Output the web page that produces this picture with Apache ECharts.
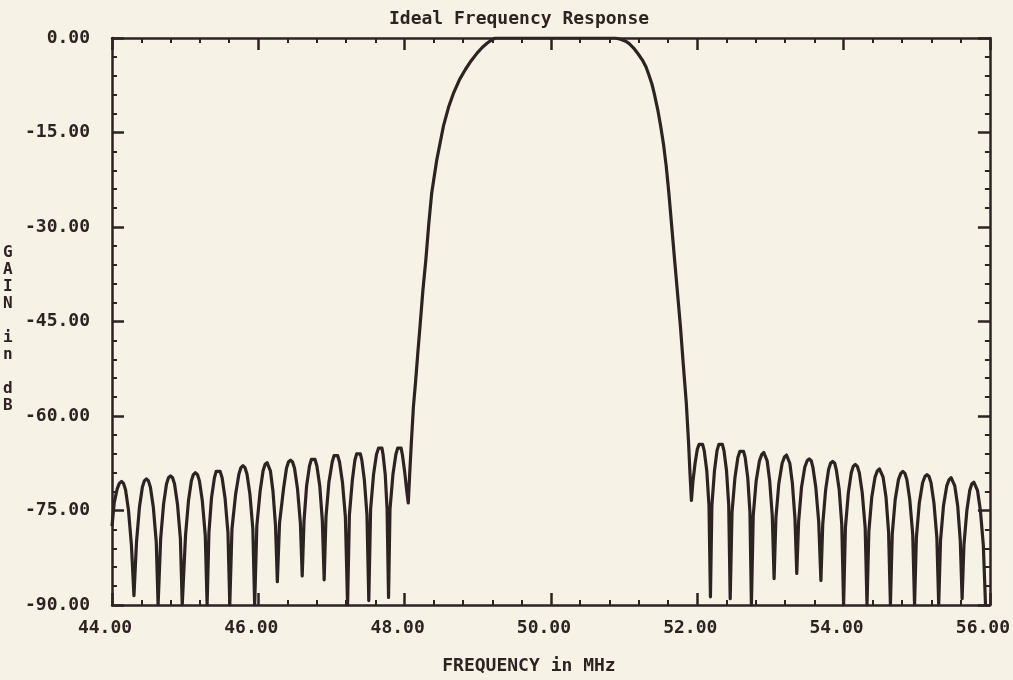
<!DOCTYPE html>
<html>
<head>
<meta charset="utf-8">
<title>Ideal Frequency Response</title>
<script src="https://cdn.jsdelivr.net/npm/echarts@6/dist/echarts.min.js"></script>
<style>
  html, body { margin: 0; padding: 0; background: #f7f2e6; }
  #chart { width: 1013px; height: 680px; }
</style>
</head>
<body>
<div id="chart"></div>
<script>
// frequency in MHz, gain in dB
const leftSidelobes = [
  [44.00, -77.5], [44.03, -73.8], [44.07, -71.6], [44.10, -70.7], [44.13, -70.4], [44.158, -70.7], [44.185, -71.7], [44.225, -74.9], [44.265, -80.4], [44.30, -88.5],
  [44.335, -80.0], [44.375, -74.5], [44.415, -71.3], [44.442, -70.3], [44.47, -70.0], [44.498, -70.3], [44.525, -71.3], [44.565, -74.5], [44.605, -80.0], [44.63, -90],
  [44.665, -79.5], [44.705, -74.0], [44.745, -70.8], [44.772, -69.8], [44.80, -69.5], [44.828, -69.8], [44.855, -70.8], [44.895, -74.0], [44.935, -79.5], [44.96, -90],
  [45.005, -79.0], [45.045, -73.5], [45.085, -70.3], [45.112, -69.3], [45.14, -69.0], [45.168, -69.3], [45.195, -70.3], [45.235, -73.5], [45.275, -79.0], [45.30, -90],
  [45.325, -78.5], [45.36, -73.0], [45.40, -69.8], [45.424, -68.8], [45.45, -68.5], [45.478, -68.8], [45.505, -69.8], [45.545, -73.0], [45.585, -78.5], [45.61, -90],
  [45.64, -77.9], [45.69, -72.4], [45.735, -69.2], [45.762, -68.2], [45.79, -67.9], [45.818, -68.2], [45.845, -69.2], [45.885, -72.4], [45.925, -77.9], [45.95, -90],
  [45.98, -77.4], [46.025, -71.9], [46.065, -68.7], [46.092, -67.7], [46.12, -67.4], [46.145, -67.7], [46.165, -68.7], [46.20, -71.9], [46.235, -77.4], [46.26, -86.3],
  [46.29, -77.0], [46.345, -71.5], [46.385, -68.3], [46.412, -67.3], [46.44, -67.0], [46.468, -67.3], [46.495, -68.3], [46.535, -71.5], [46.575, -77.0], [46.60, -85.4],
  [46.625, -76.6], [46.66, -71.1], [46.70, -67.9], [46.725, -66.9], [46.75, -66.6], [46.775, -66.9], [46.80, -67.9], [46.84, -71.1], [46.875, -76.6], [46.90, -86.0],
  [46.925, -76.0], [46.965, -70.5], [47.01, -67.3], [47.035, -66.3], [47.06, -66.0], [47.085, -66.3], [47.11, -67.3], [47.15, -70.5], [47.19, -76.0], [47.22, -90],
  [47.245, -75.7], [47.285, -70.2], [47.32, -67.0], [47.345, -66.0], [47.37, -65.7], [47.395, -66.0], [47.415, -67.0], [47.45, -70.2], [47.485, -75.7], [47.51, -89.3],
  [47.535, -74.8], [47.575, -69.3], [47.615, -66.1], [47.643, -65.1], [47.67, -64.8], [47.69, -65.1], [47.705, -66.1], [47.735, -69.3], [47.76, -74.8], [47.78, -88.8],
  [47.80, -74.8], [47.84, -69.3], [47.88, -66.1], [47.905, -65.1], [47.93, -64.8], [47.952, -65.1], [47.97, -66.2], [48.00, -68.8], [48.03, -72.0], [48.05, -73.8]
];

const mainLobe = [
  [48.07, -69.0], [48.09, -64.6], [48.12, -58.5], [48.15, -54.5], [48.18, -50.0], [48.21, -45.8], [48.25, -40.0],
  [48.29, -35.2], [48.33, -29.5], [48.37, -24.6], [48.44, -19.3], [48.53, -14.0], [48.60, -11.0], [48.67, -8.7],
  [48.75, -6.6], [48.83, -5.0], [48.91, -3.6], [48.99, -2.4], [49.06, -1.5], [49.13, -0.8], [49.19, -0.3], [49.24, 0],
  [50.00, 0], [50.88, 0],
  [50.95, -0.2], [51.02, -0.5], [51.07, -0.9], [51.13, -1.6], [51.19, -2.5], [51.25, -3.5], [51.30, -4.6], [51.34, -5.9],
  [51.38, -7.3], [51.41, -8.7], [51.46, -11.4], [51.50, -14.0], [51.54, -17.0], [51.575, -20.3], [51.61, -24.4],
  [51.65, -29.8], [51.69, -35.2], [51.73, -40.5], [51.77, -45.8], [51.81, -52.0], [51.85, -57.9], [51.88, -64.0],
  [51.90, -69.0], [51.92, -73.4]
];

const rightSidelobes = [
  [51.94, -70.5], [51.97, -67.5], [52.00, -65.3], [52.025, -64.5], [52.05, -64.2], [52.073, -64.5], [52.095, -65.5], [52.13, -68.7], [52.16, -74.2], [52.18, -88.7],
  [52.20, -74.2], [52.235, -68.7], [52.27, -65.5], [52.295, -64.5], [52.32, -64.2], [52.343, -64.5], [52.365, -65.5], [52.40, -68.7], [52.43, -74.2], [52.45, -89.0],
  [52.475, -75.3], [52.515, -69.8], [52.555, -66.6], [52.583, -65.6], [52.61, -65.3], [52.633, -65.6], [52.655, -66.6], [52.69, -69.8], [52.72, -75.3], [52.74, -90],
  [52.765, -75.8], [52.805, -70.3], [52.85, -67.1], [52.882, -66.1], [52.91, -65.8], [52.935, -66.1], [52.955, -67.1], [52.99, -70.3], [53.025, -75.8], [53.05, -85.8],
  [53.075, -76.2], [53.115, -70.7], [53.16, -67.5], [53.192, -66.5], [53.22, -66.2], [53.245, -66.5], [53.265, -67.5], [53.30, -70.7], [53.335, -76.2], [53.36, -85.0],
  [53.385, -76.8], [53.425, -71.3], [53.47, -68.1], [53.502, -67.1], [53.53, -66.8], [53.558, -67.1], [53.58, -68.1], [53.62, -71.3], [53.66, -76.8], [53.69, -86.1],
  [53.715, -77.2], [53.755, -71.7], [53.795, -68.5], [53.822, -67.5], [53.85, -67.2], [53.878, -67.5], [53.90, -68.5], [53.94, -71.7], [53.975, -77.2], [54.00, -90],
  [54.025, -77.7], [54.065, -72.2], [54.105, -69.0], [54.132, -68.0], [54.16, -67.7], [54.188, -68.0], [54.215, -69.0], [54.255, -72.2], [54.295, -77.7], [54.32, -90],
  [54.345, -78.4], [54.385, -72.9], [54.43, -69.7], [54.462, -68.7], [54.49, -68.4], [54.515, -68.7], [54.54, -69.7], [54.58, -72.9], [54.615, -78.4], [54.64, -90],
  [54.665, -78.8], [54.705, -73.3], [54.75, -70.1], [54.782, -69.1], [54.81, -68.8], [54.838, -69.1], [54.865, -70.1], [54.905, -73.3], [54.945, -78.8], [54.97, -90],
  [54.995, -79.3], [55.035, -73.8], [55.08, -70.6], [55.112, -69.6], [55.14, -69.3], [55.168, -69.6], [55.195, -70.6], [55.235, -73.8], [55.275, -79.3], [55.30, -90],
  [55.325, -79.8], [55.365, -74.3], [55.41, -71.1], [55.442, -70.1], [55.47, -69.8], [55.495, -70.1], [55.52, -71.1], [55.56, -74.3], [55.595, -79.8], [55.62, -89.0],
  [55.645, -80.5], [55.685, -75.0], [55.725, -71.8], [55.752, -70.8], [55.78, -70.5], [55.805, -70.8], [55.83, -71.8], [55.87, -75.0], [55.91, -80.5], [55.94, -90]
];

const freqRange = [44, 56];
const gainRange = [-90, 0];

const ink = '#2e2323';
const plotFont = 'DejaVu Sans Mono';

const myChart = echarts.init(document.getElementById('chart'));

const tickStyle = { inside: true, length: 12, lineStyle: { color: ink, width: 2.5 } };
const minorStyle = { show: true, splitNumber: 5, length: 5, lineStyle: { color: ink, width: 2 } };
const lineStyle = { show: true, onZero: false, lineStyle: { color: ink, width: 2.5 } };

const option = {
  backgroundColor: '#f7f2e6',
  animation: false,
  title: {
    text: 'Ideal Frequency Response',
    left: 384,
    top: 5,
    textStyle: { fontFamily: plotFont, fontWeight: 'bold', fontSize: 18, color: ink }
  },
  grid: { left: 112, right: 23, top: 38, bottom: 72 },
  graphic: [
    {
      type: 'text',
      left: 3,
      top: 244,
      style: {
        text: 'G\nA\nI\nN\n\ni\nn\n\nd\nB',
        font: 'bold 16px "DejaVu Sans Mono"',
        lineHeight: 17,
        fill: ink
      }
    }
  ],
  xAxis: [
    {
      type: 'value',
      min: freqRange[0],
      max: freqRange[1],
      interval: 2,
      name: 'FREQUENCY in MHz',
      nameLocation: 'middle',
      nameGap: 52,
      nameTextStyle: {
        fontFamily: plotFont, fontWeight: 'bold', fontSize: 18, color: ink,
        padding: [0, 44, 0, 0]
      },
      axisLine: lineStyle,
      axisTick: tickStyle,
      minorTick: minorStyle,
      splitLine: { show: false },
      axisLabel: {
        margin: 14,
        fontFamily: plotFont,
        fontWeight: 'bold',
        fontSize: 18,
        color: ink,
        padding: [0, 14, 0, 0],
        formatter: v => v.toFixed(2)
      }
    },
    {
      type: 'value',
      position: 'top',
      min: freqRange[0],
      max: freqRange[1],
      interval: 2,
      axisLine: lineStyle,
      axisTick: tickStyle,
      minorTick: minorStyle,
      splitLine: { show: false },
      axisLabel: { show: false }
    }
  ],
  yAxis: [
    {
      type: 'value',
      min: gainRange[0],
      max: gainRange[1],
      interval: 15,
      axisLine: lineStyle,
      axisTick: tickStyle,
      minorTick: minorStyle,
      splitLine: { show: false },
      axisLabel: {
        margin: 22,
        fontFamily: plotFont,
        fontWeight: 'bold',
        fontSize: 18,
        color: ink,
        formatter: v => v.toFixed(2)
      }
    },
    {
      type: 'value',
      position: 'right',
      min: gainRange[0],
      max: gainRange[1],
      interval: 15,
      axisLine: lineStyle,
      axisTick: tickStyle,
      minorTick: minorStyle,
      splitLine: { show: false },
      axisLabel: { show: false }
    }
  ],
  series: [
    {
      type: 'line',
      xAxisIndex: 0,
      yAxisIndex: 0,
      showSymbol: false,
      smooth: false,
      lineStyle: { color: ink, width: 3.2, join: 'round' },
      data: leftSidelobes.concat(mainLobe, rightSidelobes)
    }
  ]
};

myChart.setOption(option);
</script>
</body>
</html>
